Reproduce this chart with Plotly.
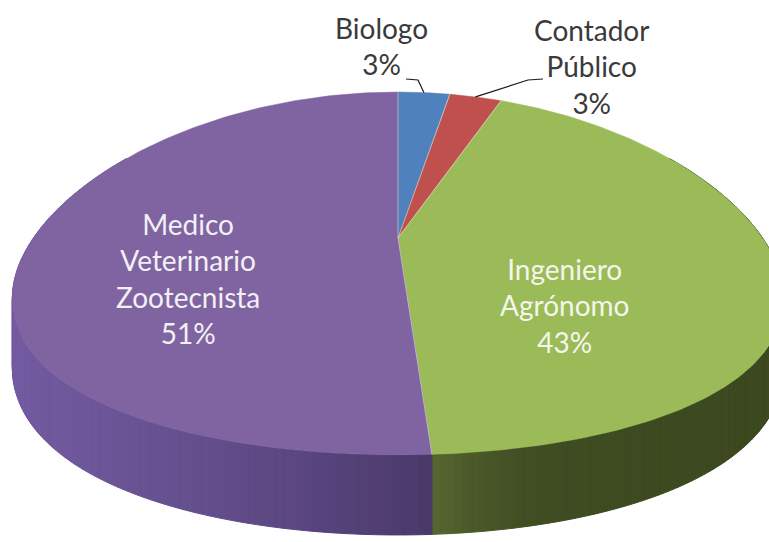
import numpy as np
import plotly.graph_objects as go

# Distribution of professions (percent)
labels = ["Biologo", "Contador Público", "Ingeniero Agrónomo", "Medico Veterinario Zootecnista"]
values = [3, 3, 43, 51]
top_colors = ["#4f81bd", "#c0504d", "#9bbb59", "#8064a2"]

# Side-wall shading stops (screen x -> rgb) for each slice
wall_stops = {
    2: ([435, 470, 520, 600, 769],
        [(86, 100, 48), (76, 90, 41), (65, 78, 35), (62, 75, 33), (60, 72, 31)]),
    3: ([0, 15, 100, 200, 300, 380, 432],
        [(116, 91, 161), (115, 90, 160), (108, 85, 152), (100, 78, 140),
         (90, 70, 128), (80, 62, 114), (74, 56, 104)]),
    0: ([0, 769], [(60, 100, 150), (60, 100, 150)]),
    1: ([0, 769], [(150, 60, 58), (150, 60, 58)]),
}

# Tilted-disc projection parameters (pixels)
CX, CY = 398.0, 238.0
AX, PX = 364.6, 0.326
AY, PY = 174.5, 0.1955
H0 = 64.4


def top_xy(theta):
    X, Yd = np.sin(theta), np.cos(theta)
    return CX + AX * X / (1 + PX * Yd), CY - AY * Yd / (1 + PY * Yd)


def wall_drop(theta):
    return H0 / (1 + PY * np.cos(theta))


def interp_color(stops, x):
    xs, cols = stops
    c = [np.interp(x, xs, [cc[i] for cc in cols]) for i in range(3)]
    return "rgb(%d,%d,%d)" % tuple(int(round(v)) for v in c)


fracs = np.array(values, dtype=float) / sum(values)
bounds = np.concatenate([[0], np.cumsum(fracs)]) * 2 * np.pi

fig = go.Figure()

# Side walls (front part only; the back is hidden under the top faces)
vis_lo, vis_hi = np.radians(60), np.radians(300)
for i in range(len(values)):
    a, b = max(bounds[i], vis_lo), min(bounds[i + 1], vis_hi)
    if b <= a:
        continue
    n = max(2, int(np.degrees(b - a) / 0.8))
    edges = np.linspace(a, b, n + 1)
    for t0, t1 in zip(edges[:-1], edges[1:]):
        ts = np.array([t0, t1])
        tx, ty = top_xy(ts)
        by = ty + wall_drop(ts)
        xs = [tx[0], tx[1], tx[1], tx[0], tx[0]]
        ys = [ty[0], ty[1], by[1], by[0], ty[0]]
        col = interp_color(wall_stops[i], float(np.mean(tx)))
        fig.add_trace(go.Scatter(
            x=xs, y=ys, mode="lines", fill="toself", fillcolor=col,
            line=dict(color=col, width=1), hoverinfo="skip", showlegend=False))

# Top faces
for i in range(len(values)):
    ts = np.linspace(bounds[i], bounds[i + 1], 200)
    tx, ty = top_xy(ts)
    xs = np.concatenate([[CX], tx, [CX]])
    ys = np.concatenate([[CY], ty, [CY]])
    fig.add_trace(go.Scatter(
        x=xs, y=ys, mode="lines", fill="toself", fillcolor=top_colors[i],
        line=dict(color=top_colors[i], width=0.5),
        hoverinfo="skip", showlegend=False))

# Light radial seams between slices on the top face
for t in bounds[:-1]:
    ex, ey = top_xy(t)
    fig.add_trace(go.Scatter(
        x=[CX, ex], y=[CY, ey], mode="lines",
        line=dict(color="rgba(235,235,235,0.5)", width=1),
        hoverinfo="skip", showlegend=False))

font_name = "Lato"
annotations = [
    dict(x=188, y=278, text="Medico<br>Veterinario<br>Zootecnista<br>51%",
         color="#f2f0f5"),
    dict(x=564, y=305, text="Ingeniero<br>Agrónomo<br>43%", color="#f4f6ec"),
    dict(x=381, y=46, text="Biologo<br>3%", color="#3a3a3a"),
    dict(x=591, y=66, text="Contador<br>Público<br>3%", color="#3a3a3a"),
]
for a in annotations:
    fig.add_annotation(x=a["x"], y=a["y"], xref="x", yref="y", text=a["text"],
                       showarrow=False, align="center",
                       font=dict(family=font_name, size=28, color=a["color"]))

# Leader lines to the two thin slices
mid0 = (bounds[0] + bounds[1]) / 2
mid1 = (bounds[1] + bounds[2]) / 2
e0x, e0y = top_xy(mid0)
e1x, e1y = top_xy(mid1)
fig.add_shape(type="path", path=f"M 406 79 L 418 80 L {e0x:.1f} {e0y:.1f}",
              line=dict(color="#1a1a1a", width=1.2), xref="x", yref="y")
fig.add_shape(type="path", path=f"M 543 79 L 528 80 L {e1x:.1f} {e1y:.1f}",
              line=dict(color="#1a1a1a", width=1.2), xref="x", yref="y")

fig.update_layout(
    width=769, height=542, margin=dict(l=0, r=0, t=0, b=0),
    paper_bgcolor="white", plot_bgcolor="white",
    xaxis=dict(range=[0, 769], visible=False, fixedrange=True),
    yaxis=dict(range=[542, 0], visible=False, fixedrange=True),
    showlegend=False,
)

fig.write_html("out.html")
